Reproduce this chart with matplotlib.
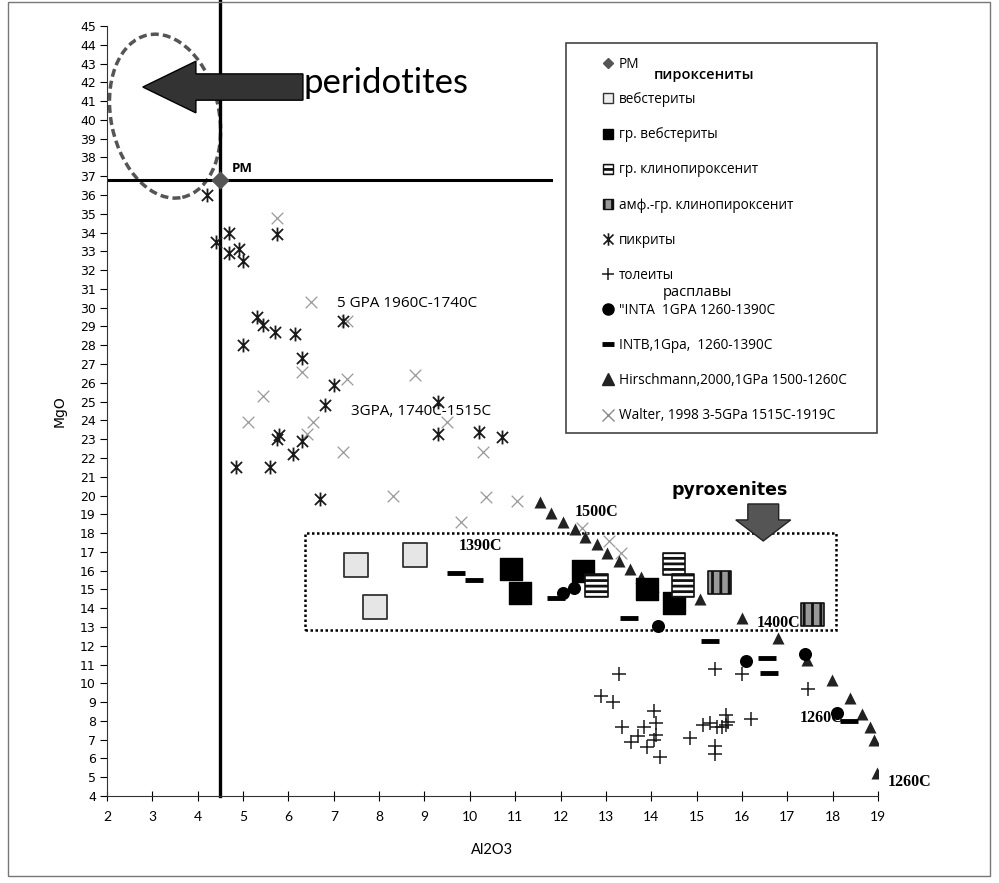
import matplotlib
matplotlib.use("Agg")
import matplotlib.pyplot as plt
import matplotlib.patches as mpatches
from matplotlib.lines import Line2D
from matplotlib.path import Path
from matplotlib.transforms import ScaledTranslation

# --- data (Al2O3, MgO) ---
pm_x, pm_y = [4.5], [36.8]

webster_x = [7.5, 8.8, 7.9]
webster_y = [16.3, 16.85, 14.05]

gr_webster_x = [10.9, 11.1, 12.5, 13.9, 14.5]
gr_webster_y = [16.1, 14.8, 16.0, 15.0, 14.3]

gr_cpx_x = [12.8, 14.5, 14.7]
gr_cpx_y = [15.2, 16.35, 15.2]

amph_cpx_x = [15.5, 17.55]
amph_cpx_y = [15.35, 13.65]

picrite_x = [4.2, 4.4, 4.7, 4.7, 4.9, 5.0, 5.75, 5.3, 5.45, 5.7, 6.15, 5.0, 7.2,
             6.3, 7.0, 6.8, 5.8, 5.75, 6.3, 6.1, 4.85, 5.6, 6.7, 9.3, 9.3, 10.2, 10.7]
picrite_y = [36.0, 33.5, 34.0, 32.9, 33.1, 32.5, 33.9, 29.5, 29.1, 28.7, 28.6, 28.0, 29.3,
             27.3, 25.9, 24.8, 23.2, 23.0, 22.9, 22.2, 21.5, 21.5, 19.8, 25.0, 23.3, 23.4, 23.1]

tholeiite_x = [13.3, 12.9, 13.15, 13.35, 14.05, 14.1, 13.85, 14.1, 14.05, 13.7, 13.55, 13.9,
               14.2, 14.85, 15.15, 15.3, 15.45, 15.65, 15.65, 15.7, 15.55, 15.4, 15.4, 15.4,
               16.0, 16.2, 17.45]
tholeiite_y = [10.5, 9.3, 9.0, 7.7, 8.5, 7.9, 7.7, 7.25, 7.0, 7.2, 6.9, 6.6,
               6.1, 7.1, 7.8, 7.9, 7.7, 8.3, 7.8, 7.95, 7.7, 10.75, 6.65, 6.25,
               10.5, 8.1, 9.7]

inta_x = [12.05, 12.3, 14.15, 16.1, 17.4, 18.1]
inta_y = [14.8, 15.05, 13.05, 11.2, 11.55, 8.4]

intb_x = [9.7, 10.1, 11.9, 13.5, 15.3, 16.55, 16.6, 18.35]
intb_y = [15.9, 15.5, 14.55, 13.5, 12.25, 11.35, 10.55, 8.0]

hirsch_x = [11.55, 11.8, 12.06, 12.32, 12.54, 12.8, 13.03, 13.29, 13.53, 13.78, 14.04,
            15.08, 16.0, 16.8, 17.44, 17.99, 18.38, 18.65, 18.82, 18.91, 18.98]
hirsch_y = [19.65, 19.07, 18.6, 18.2, 17.8, 17.4, 16.94, 16.5, 16.1, 15.66, 15.18,
            14.5, 13.5, 12.4, 11.24, 10.2, 9.2, 8.37, 7.67, 6.98, 5.22]

walter_x = [5.75, 6.5, 7.3, 6.3, 7.3, 5.45, 5.1, 6.55, 6.4, 7.2, 8.8, 9.5, 10.3,
            8.3, 10.35, 11.05, 9.8, 12.47, 13.07, 13.33]
walter_y = [34.8, 30.3, 29.3, 26.6, 26.2, 25.3, 23.9, 23.9, 23.3, 22.3, 26.4, 23.9, 22.3,
            20.0, 19.9, 19.7, 18.6, 18.27, 17.58, 16.94]

legend_labels = ["РМ", "вебстериты", "гр. вебстериты", "гр. клинопироксенит",
                 "амф.-гр. клинопироксенит", "пикриты", "толеиты",
                 "\"INTA  1GPA 1260-1390C", "INTB,1Gpa,  1260-1390C",
                 "Hirschmann,2000,1GPa 1500-1260C", "Walter, 1998 3-5GPa 1515C-1919C"]

x_ticks = list(range(2, 20))
y_ticks = list(range(4, 46))

plt.rcParams["hatch.linewidth"] = 2.0

# Excel-style "star" marker: an X with a vertical bar (looks like Ж)
star = Path([(0, -1), (0, 1), (-0.8, -0.8), (0.8, 0.8), (-0.8, 0.8), (0.8, -0.8)],
            [Path.MOVETO, Path.LINETO] * 3)

fig = plt.figure(figsize=(9.99, 8.83), dpi=100)
ax = fig.add_axes([107 / 999, 1 - 796 / 883, 771 / 999, 770 / 883])

# frame around the whole chart
fig.patches.append(mpatches.Rectangle((0.008, 0.008), 0.983, 0.99, transform=fig.transFigure,
                                      fill=False, ec="#777777", lw=1))

# reference lines through PM
ax.plot([4.5, 4.5], [4, 46.4], color="black", lw=2.4, clip_on=False, zorder=2)
ax.plot([2, 11.8], [36.8, 36.8], color="black", lw=2.2, zorder=2)

# dashed ellipse around peridotites
etrans = fig.dpi_scale_trans + ScaledTranslation(3.28, 40.2, ax.transData)
ax.add_patch(mpatches.Ellipse((0, 0), 1.08, 1.66, angle=12, transform=etrans, fill=False,
                              ec="#555555", lw=2.5, ls=(0, (2.3, 1.2)), clip_on=False))
ax.add_patch(mpatches.FancyArrow(6.32, 41.75, -3.53, 0, width=1.4, head_width=2.75,
                                 head_length=1.17, length_includes_head=True,
                                 fc="#333333", ec="black", lw=1, zorder=3))
ax.text(6.33, 41.95, "peridotites", fontsize=25, family="Lato", ha="left", va="center")

# dotted pyroxenite field
ax.add_patch(mpatches.Rectangle((6.37, 12.85), 11.7, 5.15, fill=False, ec="black",
                                lw=1.8, ls=(0, (1, 1)), zorder=2))
ax.add_patch(mpatches.FancyArrow(16.47, 19.55, 0, -1.97, width=0.68, head_width=1.21,
                                 head_length=1.12, length_includes_head=True,
                                 fc="#555555", ec="#222222", lw=1, zorder=3))
ax.text(15.72, 20.3, "pyroxenites", fontsize=12.5, weight="heavy", family="DejaVu Sans",
        ha="center", va="center")

# series
ax.scatter(walter_x, walter_y, marker="x", s=70, color="#999999", lw=0.9, zorder=4)
ax.scatter(picrite_x, picrite_y, marker=star, s=100, color="#1a1a1a", lw=1.3, zorder=5)
ax.scatter(tholeiite_x, tholeiite_y, marker="+", s=110, color="#1a1a1a", lw=1.1, zorder=5)
ax.scatter(hirsch_x, hirsch_y, marker="^", s=75, color="#222222", lw=0, zorder=4)
ax.scatter(webster_x, webster_y, marker="s", s=300, fc="#e6e6e6", ec="#333333", lw=1.3, zorder=5)
ax.scatter(gr_webster_x, gr_webster_y, marker="s", s=260, fc="black", ec="black", zorder=5)
ax.scatter(gr_cpx_x, gr_cpx_y, marker="s", s=270, fc="white", ec="#111111", hatch="---",
           lw=1.2, zorder=6)
ax.scatter(amph_cpx_x, amph_cpx_y, marker="s", s=280, fc="#999999", ec="#111111", hatch="||",
           lw=1.2, zorder=6)
ax.scatter(inta_x, inta_y, marker="o", s=70, color="black", zorder=7)
ax.scatter(intb_x, intb_y, marker="_", s=150, color="black", lw=3.5, zorder=7)
ax.scatter(pm_x, pm_y, marker="D", s=70, color="#555555", zorder=8)

# annotations
lbl = dict(family="Liberation Serif", weight="bold", fontsize=11.5, ha="left", va="center")
ax.text(4.76, 37.4, "PM", family="Open Sans", weight="bold", fontsize=9.5, ha="left", va="center")
ax.text(7.07, 30.2, "5 GPA 1960C-1740C", family="Open Sans", fontsize=11, ha="left", va="center")
ax.text(7.38, 24.45, "3GPA, 1740C-1515C", family="Open Sans", fontsize=11, ha="left", va="center")
ax.text(12.32, 19.1, "1500C", **lbl)
ax.text(9.76, 17.3, "1390C", **lbl)
ax.text(16.33, 13.2, "1400C", **lbl)
ax.text(17.28, 8.15, "1260C", **lbl)
ax.text(19.22, 4.75, "1260C", clip_on=False, **lbl)

# axes styling
ax.set_xlim(2, 19)
ax.set_ylim(4, 45)
ax.set_xticks(x_ticks)
ax.set_yticks(y_ticks)
for s in ("top", "right"):
    ax.spines[s].set_visible(False)
ax.spines["left"].set_color("#333333")
ax.spines["bottom"].set_color("#333333")
ax.tick_params(axis="y", direction="out", length=5, labelsize=9, pad=3)
ax.tick_params(axis="x", direction="inout", length=7, labelsize=10, pad=7)
for t in ax.get_yticklabels():
    t.set_family("DejaVu Sans")
for t in ax.get_xticklabels():
    t.set_family("Lato")
ax.set_xlabel("Al2O3", family="Lato", fontsize=10.5, labelpad=15)
ax.set_ylabel("MgO", family="DejaVu Sans", fontsize=10, labelpad=10)

# legend
handles = [
    Line2D([], [], ls="none", marker="D", ms=5, color="#555555"),
    mpatches.Patch(fc="#eeeeee", ec="#333333", lw=1),
    mpatches.Patch(fc="black", ec="black"),
    mpatches.Patch(fc="white", ec="#111111", hatch="---", lw=1),
    mpatches.Patch(fc="#999999", ec="#111111", hatch="||", lw=1),
    Line2D([], [], ls="none", marker=star, ms=9, mew=1.2, color="#1a1a1a"),
    Line2D([], [], ls="none", marker="+", ms=9, mew=1.1, color="#1a1a1a"),
    Line2D([], [], ls="none", marker="o", ms=8, color="black"),
    Line2D([], [], ls="none", marker="_", ms=9, mew=3.5, color="black"),
    Line2D([], [], ls="none", marker="^", ms=8, color="#222222"),
    Line2D([], [], ls="none", marker="x", ms=9, mew=1, color="#8a8a8a"),
]
fig.legend(handles, legend_labels, loc="upper left", bbox_to_anchor=(603 / 999, 1 - 57 / 883),
           bbox_transform=fig.transFigure, frameon=False, borderpad=0, borderaxespad=0,
           handlelength=0.75, handleheight=0.75, handletextpad=0.4, labelspacing=1.48,
           prop={"family": "Open Sans", "size": 9.8})
fig.patches.append(mpatches.Rectangle((566 / 999, 1 - 433 / 883), 311 / 999, 390 / 883,
                                      transform=fig.transFigure, fill=False, ec="#444444", lw=1.2))
fig.text(704 / 999, 1 - 75 / 883, "пироксениты", family="Open Sans", weight="semibold",
         fontsize=10.5, ha="center", va="center")
fig.text(697 / 999, 1 - 292 / 883, "расплавы", family="Open Sans", fontsize=10.5,
         ha="center", va="center")

fig.savefig("out.png", dpi=100)
